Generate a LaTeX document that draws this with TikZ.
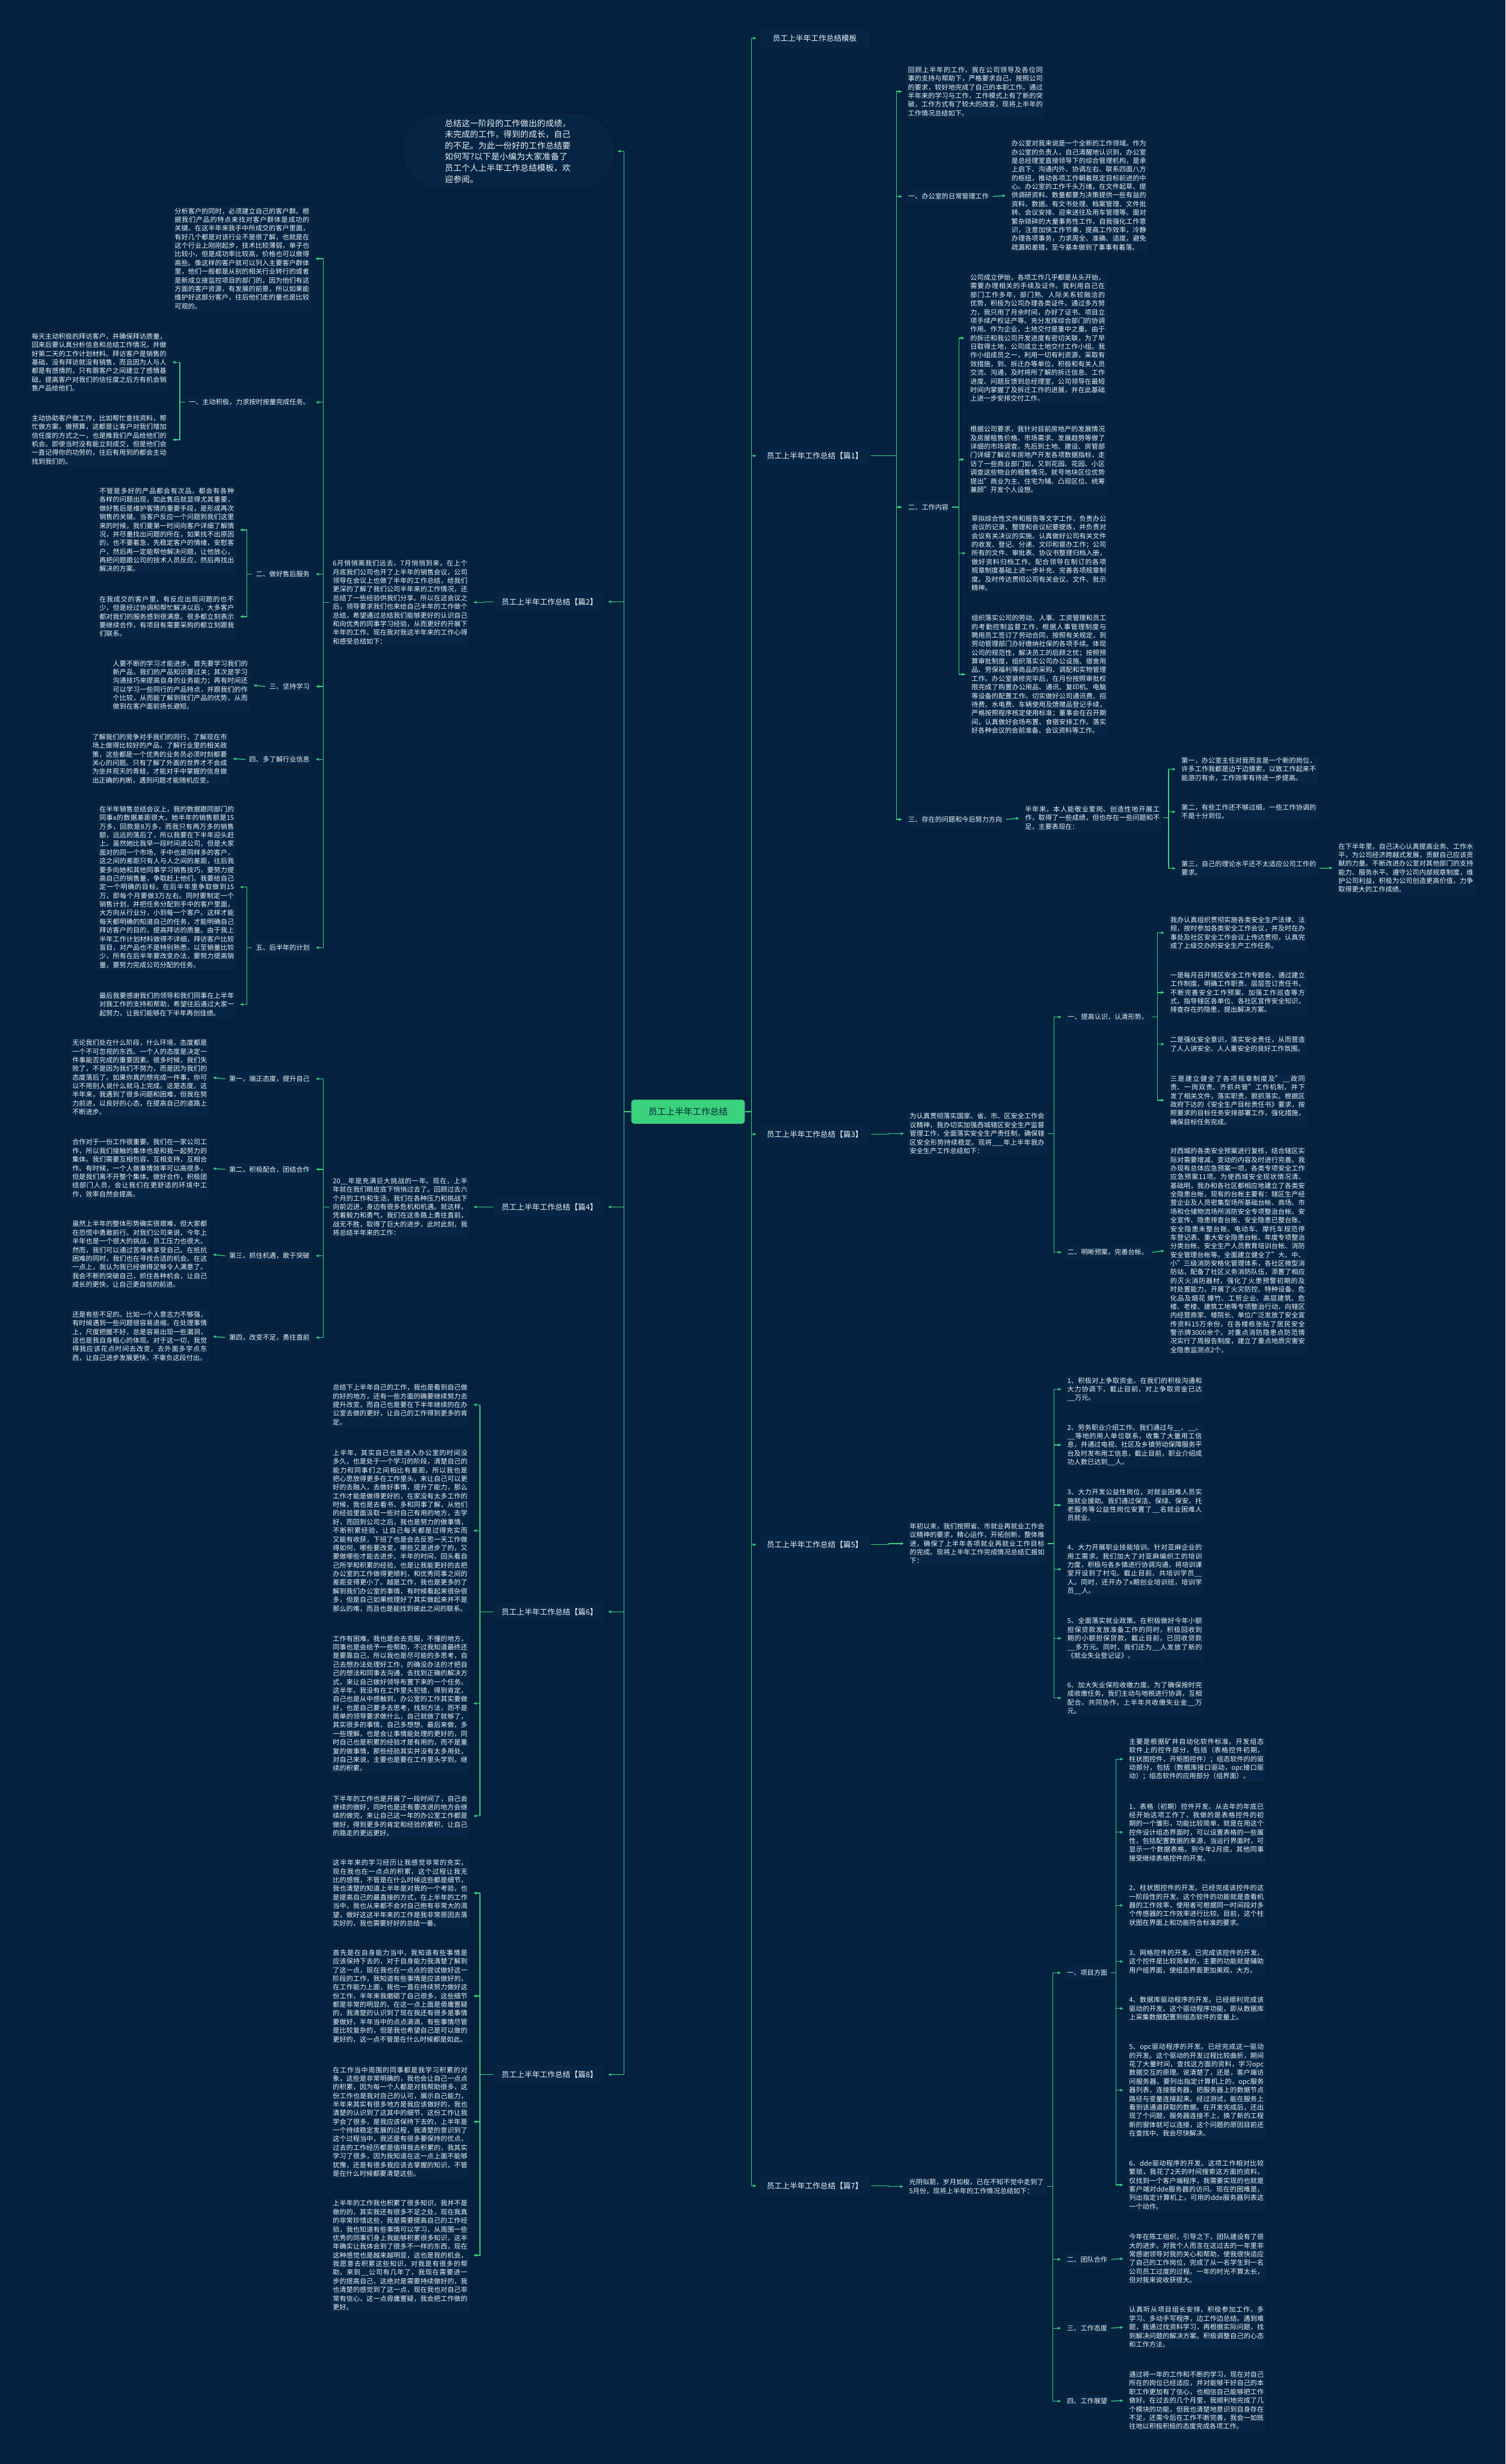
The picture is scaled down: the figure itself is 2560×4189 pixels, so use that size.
\documentclass[tikz,border=0pt]{standalone}
\usepackage{fontspec}
\setmainfont{Noto Sans CJK SC}
\usetikzlibrary{arrows.meta}
\XeTeXlinebreaklocale "zh"
\XeTeXlinebreakskip=0pt plus 1pt
\definecolor{bgcol}{HTML}{042140}
\definecolor{boxfill}{HTML}{062544}
\definecolor{boxline}{HTML}{0C1A2A}
\definecolor{linkcol}{HTML}{3AD27C}
\definecolor{fgcol}{HTML}{EEF3F8}
\definecolor{rootfg}{HTML}{0B2440}
\begin{document}
\begin{tikzpicture}[x=1pt, y=-1pt,
  link/.style={draw=linkcol, line width=1.3pt, -{Stealth[length=6pt,width=5pt]}, shorten >=4pt},
  txt/.style={draw=boxline, fill=boxfill, line width=1pt, rounded corners=4pt, text=fgcol,
    text width=229pt, inner xsep=5.5pt, inner ysep=5pt, align=justify,
    font=\fontsize{11.4}{14.7}\selectfont},
  lbl/.style={draw=boxline, fill=boxfill, line width=1pt, rounded corners=4pt, text=fgcol,
    inner xsep=6pt, inner ysep=4pt, minimum height=26pt, font=\fontsize{11.4}{14}\selectfont},
  topic/.style={draw=boxline, fill=boxfill, line width=1pt, rounded corners=5pt, text=fgcol,
    inner xsep=10pt, minimum width=190pt, minimum height=34pt, font=\fontsize{13}{15}\selectfont},
  rootbox/.style={fill=linkcol, rounded corners=5pt, text=rootfg, minimum width=193pt,
    minimum height=41pt, font=\fontsize{15}{17}\selectfont},
  introbox/.style={draw=boxline, fill=boxfill, line width=1.2pt, rounded corners=66pt, text=fgcol,
    text width=216pt, inner xsep=73pt, inner ysep=11pt, align=left,
    font=\fontsize{14.2}{19}\selectfont}]

\fill[bgcol] (0,0) rectangle (2560,4189);
\useasboundingbox (0,0) rectangle (2560,4189);

% centre
\node[rootbox] (root) at (1170,1890) {员工上半年工作总结};

% gauche
\node[introbox, anchor=east] (intro) at (1046,257)
{总结这一阶段的工作做出的成绩，未完成的工作，得到的成长，自己的不足。为此一份好的工作总结要如何写?以下是小编为大家准备了员工个人上半年工作总结模板，欢迎参阅。};
\node[topic, anchor=east] (p2) at (1030,1023) {员工上半年工作总结【篇2】};
\node[topic, anchor=east] (p4) at (1030,2052) {员工上半年工作总结【篇4】};
\node[topic, anchor=east] (p6) at (1030,2740) {员工上半年工作总结【篇6】};
\node[topic, anchor=east] (p8) at (1030,3527) {员工上半年工作总结【篇8】};

\draw[link] (root.west) -- ++(-12,0) |- (intro.east);
\draw[link] (root.west) -- ++(-12,0) |- (p2.east);
\draw[link] (root.west) -- ++(-12,0) |- (p4.east);
\draw[link] (root.west) -- ++(-12,0) |- (p6.east);
\draw[link] (root.west) -- ++(-12,0) |- (p8.east);

% droite
\node[topic, anchor=west] (tpl) at (1290,65) {员工上半年工作总结模板};
\node[topic, anchor=west] (p1) at (1290,775) {员工上半年工作总结【篇1】};
\node[topic, anchor=west] (p3) at (1290,1928) {员工上半年工作总结【篇3】};
\node[topic, anchor=west] (p5) at (1290,2626) {员工上半年工作总结【篇5】};
\node[topic, anchor=west] (p7) at (1290,3716) {员工上半年工作总结【篇7】};

\draw[link] (root.east) -- ++(11,0) |- (tpl.west);
\draw[link] (root.east) -- ++(11,0) |- (p1.west);
\draw[link] (root.east) -- ++(11,0) |- (p3.west);
\draw[link] (root.east) -- ++(11,0) |- (p5.west);
\draw[link] (root.east) -- ++(11,0) |- (p7.west);

% 篇2
\node[txt, anchor=north west] (p2intro) at (560,947)
{6月悄悄离我们远去，7月悄悄到来，在上个月底我们公司也开了上半年的销售会议，公司领导在会议上也做了半年的工作总结，给我们更深的了解了我们公司半年来的工作情况，还总结了一些经验供我们分享。所以在这会议之后，领导要求我们也来给自己半年的工作做个总结，希望通过总结我们能够更好的认识自己和向优秀的同事学习经验，从而更好的开展下半年的工作。现在我对我这半年来的工作心得和感受总结如下：};
\draw[link] (p2.west) -- ++(-16,0) |- (p2intro.east);

\node[txt, anchor=north east] (fenxi) at (532,348)
{分析客户的同时，必须建立自己的客户群。根据我们产品的特点来找对客户群体是成功的关键。在这半年来我手中所成交的客户里面，有好几个都是对该行业不是很了解，也就是在这个行业上刚刚起步，技术比较薄弱，单子也比较小，但是成功率比较高，价格也可以做得高些。像这样的客户就可以列入主要客户群体里，他们一般都是从别的相关行业转行的或者是新成立接监控项目的部门的，因为他们有这方面的客户资源，有发展的前景，所以如果能维护好这部分客户，往后他们走的量也是比较可观的。};
\node[lbl, anchor=east] (yi) at (533,684) {一、主动积极，力求按时按量完成任务。};
\node[lbl, anchor=east] (er) at (533,976) {二、做好售后服务};
\node[lbl, anchor=east] (san) at (533,1167) {三、坚持学习};
\node[lbl, anchor=east] (si) at (533,1291) {四、多了解行业信息};
\node[lbl, anchor=east] (wu) at (533,1611) {五、后半年的计划};

\draw[link] (p2intro.west) -- ++(-10,0) |- (fenxi.east);
\draw[link] (p2intro.west) -- ++(-10,0) |- (yi.east);
\draw[link] (p2intro.west) -- ++(-10,0) |- (er.east);
\draw[link] (p2intro.west) -- ++(-10,0) |- (san.east);
\draw[link] (p2intro.west) -- ++(-10,0) |- (si.east);
\draw[link] (p2intro.west) -- ++(-10,0) |- (wu.east);

\node[txt, anchor=north east] (yia) at (289,561)
{每天主动积极的拜访客户，并确保拜访质量，回来后要认真分析信息和总结工作情况，并做好第二天的工作计划材料。拜访客户是销售的基础，没有拜访就没有销售，而且因为人与人都是有感情的，只有跟客户之间建立了感情基础，提高客户对我们的信任度之后方有机会销售产品给他们。};
\node[txt, anchor=north east] (yib) at (289,700)
{主动协助客户做工作，比如帮忙查找资料，帮忙做方案，做预算，这都是让客户对我们增加信任度的方式之一，也是推我们产品给他们的机会。即使当时没有能立刻成交，但是他们会一直记得你的功劳的，往后有用到的都会主动找到我们的。};
\draw[link] (yi.west) -- ++(-9,0) |- (yia.east);
\draw[link] (yi.west) -- ++(-9,0) |- (yib.east);

\node[txt, anchor=north east] (era) at (404,824)
{不管是多好的产品都会有次品，都会有各种各样的问题出现，如此售后就显得尤其重要，做好售后是维护客情的重要手段，是形成再次销售的关键。当客户反应一个问题到我们这里来的时候，我们要第一时间向客户详细了解情况，并尽量找出问题的所在，如果找不出原因的，也不要着急，先稳定客户的情绪，安慰客户，然后再一定能帮他解决问题，让他放心，再把问题跟公司的技术人员反应，然后再找出解决的方案。};
\node[txt, anchor=north east] (erb) at (404,1008)
{在我成交的客户里，有反应出现问题的也不少，但是经过协调和帮忙解决以后，大多客户都对我们的服务感到很满意。很多都立刻表示要继续合作，有项目有需要采购的都立刻跟我们联系。};
\draw[link] (er.west) -- ++(-9,0) |- (era.east);
\draw[link] (er.west) -- ++(-9,0) |- (erb.east);

\node[txt, anchor=north east] (sana) at (427,1117)
{人要不断的学习才能进步。首先要学习我们的新产品，我们的产品知识要过关；其次是学习沟通技巧来提高自身的业务能力；再有时间还可以学习一些同行的产品特点，并跟我们的作个比较，从而能了解到我们产品的优势，从而做到在客户面前扬长避短。};
\draw[link] (san.west) -- (sana.east);

\node[txt, anchor=north east] (sia) at (392,1242)
{了解我们的竞争对手我们的同行，了解现在市场上做得比较好的产品，了解行业里的相关政策，这些都是一个优秀的业务员必须时刻都要关心的问题。只有了解了外面的世界才不会成为坐井观天的青蛙，才能对手中掌握的信息做出正确的判断，遇到问题才能随机应变。};
\draw[link] (si.west) -- (sia.east);

\node[txt, anchor=north east] (wua) at (404,1365)
{在半年销售总结会议上，我的数据跟同部门的同事x的数据差距很大，她半年的销售额是15万多，回款是8万多，而我只有两万多的销售额，远远的落后了，所以我要在下半年迎头赶上。虽然她比我早一段时间进公司，但是大家面对的同一个市场，手中也是同样多的客户，这之间的差距只有人与人之间的差距，往后我要多向她和其他同事学习销售技巧，要努力提高自己的销售量，争取赶上他们。我要给自己定一个明确的目标，在后半年里争取做到15万，即每个月要做3万左右。同时要制定一个销售计划，并把任务分配到手中的客户里面，大方向从行业分，小到每一个客户。这样才能每天都明确的知道自己的任务，才能明确自己拜访客户的目的，提高拜访的质量。由于我上半年工作计划材料做得不详细，拜访客户比较盲目，对产品也不是特别熟悉，以至销量比较少，所有在后半年要改变办法，要努力提高销量，要努力完成公司分配的任务。};
\node[txt, anchor=north east] (wub) at (404,1682)
{最后我要感谢我们的领导和我们同事在上半年对我工作的支持和帮助，希望往后通过大家一起努力，让我们能够在下半年再创佳绩。};
\draw[link] (wu.west) -- ++(-9,0) |- (wua.east);
\draw[link] (wu.west) -- ++(-9,0) |- (wub.east);

% 篇4
\node[txt, anchor=north west] (p4intro) at (560,1997)
{20\_\_年是充满巨大挑战的一年。现在，上半年就在我们眼皮底下悄悄过去了。回顾过去六个月的工作和生活，我们在各种压力和挑战下向前迈进，身边有很多危机和机遇。就这样，凭着毅力和勇气，我们在这条路上勇往直前，战无不胜，取得了巨大的进步。此时此刻，我将总结半年来的工作：};
\draw[link] (p4.west) -- ++(-16,0) |- (p4intro.east);

\node[lbl, anchor=east] (d1) at (533,1834) {第一，端正态度，提升自己};
\node[lbl, anchor=east] (d2) at (533,1988) {第二，积极配合，团结合作};
\node[lbl, anchor=east] (d3) at (533,2135) {第三，抓住机遇，敢于突破};
\node[lbl, anchor=east] (d4) at (533,2274) {第四，改变不足，勇往直前};
\draw[link] (p4intro.west) -- ++(-10,0) |- (d1.east);
\draw[link] (p4intro.west) -- ++(-10,0) |- (d2.east);
\draw[link] (p4intro.west) -- ++(-10,0) |- (d3.east);
\draw[link] (p4intro.west) -- ++(-10,0) |- (d4.east);

\node[txt, anchor=north east] (d1a) at (358,1762)
{无论我们处在什么阶段，什么环境，态度都是一个不可忽视的东西。一个人的态度是决定一件事能否完成的重要因素。很多时候，我们失败了，不是因为我们不努力，而是因为我们的态度落后了。如果你真的想完成一件事，你可以不用别人说什么就马上完成。这是态度。这半年来，我遇到了很多问题和困难，但我在努力前进，以良好的心态，在提高自己的道路上不断进步。};
\node[txt, anchor=north east] (d2a) at (358,1931)
{合作对于一份工作很重要。我们在一家公司工作，所以我们接触的集体也是和我一起努力的集体。我们需要互相包容，互相支持，互相合作。有时候，一个人做事情效率可以高很多，但是我们离不开整个集体。做好合作，积极团结部门人员，会让我们在更舒适的环境中工作，效率自然会提高。};
\node[txt, anchor=north east] (d3a) at (358,2070)
{虽然上半年的整体形势确实很艰难，但大家都在恐慌中勇敢前行。对我们公司来说，今年上半年也是一个很大的挑战，员工压力也很大。然而，我们可以通过苦难来享受自己。在抵抗困难的同时，我们也在寻找合适的机会。在这一点上，我认为我已经做得足够令人满意了。我会不断的突破自己，抓住各种机会，让自己成长的更快，让自己更自信的前进。};
\node[txt, anchor=north east] (d4a) at (358,2224)
{还是有些不足的。比如一个人意志力不够强，有时候遇到一些问题很容易退缩。在处理事情上，尺度把握不好，总是容易出现一些漏洞，这也是我自身粗心的体现。对于这一切，我觉得我应该花点时间去改变，去外面多学点东西，让自己进步发展更快，不辜负这段付出。};
\draw[link] (d1.west) -- (d1a.east);
\draw[link] (d2.west) -- (d2a.east);
\draw[link] (d3.west) -- (d3a.east);
\draw[link] (d4.west) -- (d4a.east);

% 篇6
\node[txt, anchor=north west] (h1) at (560,2348)
{总结下上半年自己的工作，我也是看到自己做的好的地方，还有一些方面的确要继续努力去提升改变，而自己也是要在下半年继续的在办公室去做的更好，让自己的工作得到更多的肯定。};
\node[txt, anchor=north west] (h2) at (560,2459)
{上半年，其实自己也是进入办公室的时间没多久，也是处于一个学习的阶段，清楚自己的能力和同事们之间相比有差距，所以我也是把心思放得更多在工作里头，来让自己可以更好的去融入，去做好事情，提升了能力，那么工作才能是做得更好的，在家没有太多工作的时候，我也是去看书，多和同事了解，从他们的经验里面汲取一些对自己有用的地方，去学好，而回到公司之后，我也是努力的做事情，不断积累经验，让自己每天都是过得充实而又能有收获，下班了也是会去反思一天工作做得如何，哪些要改变，哪些又是进步了的，又要做哪些才能去进步。半年的时间，回头看自己所学和积累的经验，也是让我能更好的去把办公室的工作做得更顺利，和优秀同事之间的差距变得更小了。越是工作，我也是更多的了解到我们办公室的事情，有时候看起来很杂很多，但是自己如果梳理好了其实做起来并不是那么的难，而且也是能找到彼此之间的联系。};
\node[txt, anchor=north west] (h3) at (560,2775)
{工作有困难，我也是会去克服，不懂的地方，同事也是会给予一些帮助，不过我知道最终还是要靠自己，所以我也是尽可能的多思考，自己去想办法处理好工作，的确没办法的才把自己的想法和同事去沟通，去找到正确的解决方式，来让自己做好领导布置下来的一个任务。这半年，我没有在工作里头犯错，得到肯定，自己也是从中感触到，办公室的工作其实要做好，也是自己要多去思考，找到方法，而不是简单的领导要求做什么，自己就做了就够了，其实很多的事情，自己多想想，最后来做，多一些理解，也是会让事情能处理的更好的，同时自己也是积累的经验才是有用的，而不是重复的做事情，那些经验其实并没有太多用处，对自己来说，主要也是要在工作里头学到，继续的积累。};
\node[txt, anchor=north west] (h4) at (560,3047)
{下半年的工作也是开展了一段时间了，自己会继续的做好，同时也是还有要改进的地方会继续的做完，来让自己这一年的办公室工作都是做好，得到更多的肯定和经验的累积，让自己的路走的更远更好。};
\draw[link] (p6.west) -- ++(-23,0) |- (h1.east);
\draw[link] (p6.west) -- ++(-23,0) |- (h2.east);
\draw[link] (p6.west) -- ++(-23,0) |- (h3.east);
\draw[link] (p6.west) -- ++(-23,0) |- (h4.east);

% 篇8
\node[txt, anchor=north west] (k1) at (560,3156)
{这半年来的学习经历让我感觉非常的充实，现在我也在一点点的积累，这个过程让我无比的感慨，不管是在什么时候这些都是细节，我也清楚的知道上半年是对我的一个考验，也是提高自己的最直接的方式，在上半年的工作当中，我也从来都不会对自己抱有非常大的渴望，做好这这半年来的工作是我非常原因去落实好的，我也需要好好的总结一番。};
\node[txt, anchor=north west] (k2) at (560,3309)
{首先是在自身能力当中，我知道有些事情是应该保持下去的，对于自身能力我清楚了解到了这一点，现在我也在一点点的尝试做好这一阶段的工作，我知道有些事情是应该做好的，在工作能力上面，我也一直在持续努力做好这份工作，半年来我磨砺了自己很多，这些细节都是非常的明显的，在这一点上面是毋庸置疑的，我清楚的认识到了现在我还有很多是事情要做好，半年当中的点点滴滴，有些事情尽管是比较复杂的，但是我也希望自己是可以做的更好的，这一点不管是在什么时候都是如此。};
\node[txt, anchor=north west] (k3) at (560,3508)
{在工作当中周围的同事都是我学习积累的对象，这些是非常明确的，我也会让自己一点点的积累，因为每一个人都是对我帮助很多，这份工作也是我对自己的认可，展示自己能力，半年来其实有很多地方是我应该做好的，我也清楚的认识到了这其中的细节，这份工作让我学会了很多，是我应该保持下去的，上半年是一个持续稳定发展的过程，我清楚的意识到了这个过程当中，我还是有很多要保持的优点，过去的工作经历都是值得我去积累的，我其实学习了很多，因为我知道在这一点上面不能够犹豫，还是有很多我应该去掌握的知识，不管是在什么时候都要清楚这些。};
\node[txt, anchor=north west] (k4) at (560,3735)
{上半年的工作我也积累了很多知识，我并不是做的的，其实我还有很多不足之处，现在我真的非常珍惜这些，我是需要提高自己的工作经验，我也知道有些事情可以学习，从周围一些优秀的同事们身上我能够积累很多知识，这半年确实让我体会到了很多不一样的东西，现在这种感觉也是越来越明显，这也是我的机会，我愿意去积累这些知识，对我是有很多的帮助，来到\_\_公司有几年了，我现在需要进一步的提高自己，这绝对是需要持续做好的，我也清楚的感觉到了这一点，现在我也对自己非常有信心，这一点毋庸置疑，我会把工作做的更好。};
\draw[link] (p8.west) -- ++(-23,0) |- (k1.east);
\draw[link] (p8.west) -- ++(-23,0) |- (k2.east);
\draw[link] (p8.west) -- ++(-23,0) |- (k3.east);
\draw[link] (p8.west) -- ++(-23,0) |- (k4.east);

% 篇1
\node[txt, anchor=north west] (b1) at (1538,108)
{回顾上半年的工作，我在公司领导及各位同事的支持与帮助下，严格要求自己，按照公司的要求，较好地完成了自己的本职工作。通过半年来的学习与工作，工作模式上有了新的突破，工作方式有了较大的改变，现将上半年的工作情况总结如下。};
\node[lbl, anchor=west] (r1) at (1538,334) {一、办公室的日常管理工作};
\node[lbl, anchor=west] (r2) at (1538,862) {二、工作内容};
\node[lbl, anchor=west] (r3) at (1538,1393) {三、存在的问题和今后努力方向};
\draw[link] (p1.east) -- ++(43,0) |- (b1.west);
\draw[link] (p1.east) -- ++(43,0) |- (r1.west);
\draw[link] (p1.east) -- ++(43,0) |- (r2.west);
\draw[link] (p1.east) -- ++(43,0) |- (r3.west);

\node[txt, anchor=north west] (r1a) at (1714,233)
{办公室对我来说是一个全新的工作领域。作为办公室的负责人，自己清醒地认识到，办公室是总经理室直接领导下的综合管理机构，是承上启下、沟通内外、协调左右、联系四面八方的枢纽，推动各项工作朝着既定目标前进的中心。办公室的工作千头万绪，在文件起草、提供调研资料、数量都要为决策提供一些有益的资料，数据。有文书处理、档案管理、文件批转、会议安排、迎来送往及用车管理等。面对繁杂琐碎的大量事务性工作，自我强化工作意识，注意加快工作节奏，提高工作效率，冷静办理各项事务，力求周全、准确、适度，避免疏漏和差错，至今基本做到了事事有着落。};
\draw[link] (r1.east) -- (r1a.west);

\node[txt, anchor=north west] (r2a) at (1644,461)
{公司成立伊始，各项工作几乎都是从头开始，需要办理相关的手续及证件。我利用自己在部门工作多年，部门熟、人际关系较融洽的优势，积极为公司办理各类证件。通过多方努力，我只用了月余时间，办好了证书、项目立项手续产权证产等。充分发挥综合部门的协调作用。作为企业，土地交付是重中之重。由于的拆迁和我公司开发进度有密切关联，为了早日取得土地，公司成立土地交付工作小组。我作小组成员之一，利用一切有利资源，采取有效措施，到、拆迁办等单位，积极和有关人员交流、沟通，及时将所了解的拆迁信息、工作进度、问题反馈到总经理室，公司领导在最短时间内掌握了及拆迁工作的进展，并在此基础上进一步安排交付工作。};
\node[txt, anchor=north west] (r2b) at (1644,719)
{根据公司要求，我针对目前房地产的发展情况及房屋租售价格、市场需求、发展趋势等做了详细的市场调查。先后到土地、建设、房管部门详细了解近年房地产开发各项数据指标，走访了一些商业部门如，又到花园、花园、小区调查这些物业的租售情况。就号地块区位优势提出"商业为主、住宅为辅、凸现区位、统筹兼顾"开发个人设想。};
\node[txt, anchor=north west] (r2c) at (1646,871)
{草拟综合性文件和报告等文字工作，负责办公会议的记录、整理和会议纪要提炼，并负责对会议有关决议的实施。认真做好公司有关文件的收发、登记、分递、文印和督办工作；公司所有的文件、审批表、协议书整理归档入册，做好资料归档工作。配合领导在制订的各项规章制度基础上进一步补充、完善各项规章制度。及时传达贯彻公司有关会议、文件、批示精神。};
\node[txt, anchor=north west] (r2d) at (1646,1040)
{组织落实公司的劳动、人事、工资管理和员工的考勤控制监督工作，根据人事管理制度与聘用员工签订了劳动合同，按照有关规定，到劳动管理部门办好缴纳社保的各项手续。体现公司的规范性，解决员工的后顾之忧；按照预算审批制度，组织落实公司办公设施、宿舍用品、劳保福利等商品的采购、调配和实物管理工作。办公室装修完毕后，在月份按照审批权限完成了购置办公用品、通讯、复印机、电脑等设备的配置工作。切实做好公司通讯费、招待费、水电费、车辆使用及馈赠品登记手续，严格按照程序核定使用标准；董事会在召开期间，认真做好会场布置、食宿安排工作。落实好各种会议的会前准备、会议资料等工作。};
\draw[link] (r2.east) -- ++(11,0) |- (r2a.west);
\draw[link] (r2.east) -- ++(11,0) |- (r2b.west);
\draw[link] (r2.east) -- ++(11,0) |- (r2c.west);
\draw[link] (r2.east) -- ++(11,0) |- (r2d.west);

\node[txt, anchor=north west] (r3a) at (1737,1365)
{半年来，本人能敬业爱岗、创造性地开展工作，取得了一些成绩，但也存在一些问题和不足，主要表现在：};
\draw[link] (r3.east) -- (r3a.west);
\node[txt, anchor=north west] (q1) at (2003,1282)
{第一，办公室主任对我而言是一个新的岗位，许多工作我都是边干边摸索，以致工作起来不能游刃有余，工作效率有待进一步提高。};
\node[txt, anchor=north west] (q2) at (2003,1362)
{第二，有些工作还不够过细，一些工作协调的不是十分到位。};
\node[txt, anchor=north west] (q3) at (2003,1458)
{第三，自己的理论水平还不太适应公司工作的要求。};
\draw[link] (r3a.east) -- ++(9,0) |- (q1.west);
\draw[link] (r3a.east) -- ++(9,0) |- (q2.west);
\draw[link] (r3a.east) -- ++(9,0) |- (q3.west);
\node[txt, anchor=north west] (q3a) at (2270,1428)
{在下半年里，自己决心认真提高业务、工作水平，为公司经济跨越式发展，贡献自己应该贡献的力量。不断改进办公室对其他部门的支持能力、服务水平。遵守公司内部规章制度，维护公司利益，积极为公司创造更高价值，力争取得更大的工作成绩。};
\draw[link] (q3.east) -- (q3a.west);

% 篇3
\node[txt, anchor=north west] (p3intro) at (1541,1887)
{为认真贯彻落实国家、省、市、区安全工作会议精神，我办切实加强西城辖区安全生产监督管理工作，全面落实安全生产责任制，确保辖区安全形势持续稳定。现将\_\_\_年上半年我办安全生产工作总结如下：};
\draw[link] (p3.east) -- ++(30,0) |- (p3intro.west);
\node[lbl, anchor=west] (s1) at (1809,1729) {一、提高认识，认清形势。};
\node[lbl, anchor=west] (s2) at (1809,2129) {二、明晰预案，完善台帐。};
\draw[link] (p3intro.east) -- ++(10,0) |- (s1.west);
\draw[link] (p3intro.east) -- ++(10,0) |- (s2.west);

\node[txt, anchor=north west] (s1a) at (1984,1553)
{我办认真组织贯彻实施各类安全生产法律、法规，按时参加各类安全工作会议，并及时在办事处及社区安全工作会议上传达贯彻，认真完成了上级交办的安全生产工作任务。};
\node[txt, anchor=north west] (s1b) at (1984,1647)
{一是每月召开辖区安全工作专题会，通过建立工作制度、明确工作职责、层层签订责任书，不断完善安全工作预案，加强工作巡查等方式，指导辖区各单位、各社区宣传安全知识，排查存在的隐患，提出解决方案。};
\node[txt, anchor=north west] (s1c) at (1984,1757)
{二是强化安全意识，落实安全责任，从而营造了人人讲安全、人人重安全的良好工作氛围。};
\node[txt, anchor=north west] (s1d) at (1984,1823)
{三是建立健全了各项规章制度及"\_\_政同责、一岗双责、齐抓共管"工作机制，并下发了相关文件，落实职责，狠抓落实。根据区政府下达的《安全生产目标责任书》要求，按照要求的目标任务安排部署工作，强化措施，确保目标任务完成。};
\draw[link] (s1.east) -- ++(9,0) |- (s1a.west);
\draw[link] (s1.east) -- ++(9,0) |- (s1b.west);
\draw[link] (s1.east) -- ++(9,0) |- (s1c.west);
\draw[link] (s1.east) -- ++(9,0) |- (s1d.west);

\node[txt, anchor=north west] (s2a) at (1984,1946)
{对西城的各类安全预案进行复核，结合辖区实际对需要增减、变动的内容及时进行完善。我办现有总体应急预案一项，各类专项安全工作应急预案11项。为使西城安全现状情况清、基础明，我办和各社区都相应地建立了各类安全隐患台帐，现有的台帐主要有：辖区生产经营企业及人员密集型场所基础台帐、商场、市场和仓储物流场所消防安全专项整治台帐、安全宣传、隐患排查台账、安全隐患已整台账、安全隐患未整台账、电动车、摩托车规范停车登记表、重大安全隐患台帐、年度专项整治分类台帐、安全生产人员教育培训台帐、消防安全管理台帐等。全面建立健全了"大、中、小"三级消防安格化管理体系，各社区微型消防站，配备了社区义务消防队伍，添置了相应的灭火消防器材，强化了火患预警初期的及时处置能力。开展了火灾防控、特种设备、危化品及烟花 爆竹、工贸企业、高层建筑、危楼、老楼、建筑工地等专项整治行动，向辖区内经营商家、楼院长、单位广泛发放了安全宣传资料15万余份，在各楼栋张贴了居民安全警示牌3000余个。对重点消防隐患点防范情况实行了周报告制度，建立了重点地质灾害安全隐患监测点2个。};
\draw[link] (s2.east) -- (s2a.west);

% 篇5
\node[txt, anchor=north west] (p5intro) at (1541,2584)
{年初以来，我们按照省、市就业再就业工作会议精神的要求，精心运作，开拓创新，整体推进，确保了上半年各项就业再就业工作目标的完成。现将上半年工作完成情况总结汇报如下：};
\draw[link] (p5.east) -- ++(30,0) |- (p5intro.west);
\node[txt, anchor=north west] (f1) at (1809,2336)
{1、积极对上争取资金。在我们的积极沟通和大力协调下，截止目前，对上争取资金已达\_\_万元。};
\node[txt, anchor=north west] (f2) at (1809,2416)
{2、劳务职业介绍工作。我们通过与\_\_、\_\_、\_\_等地的用人单位联系，收集了大量用工信息，并通过电视、社区及乡镇劳动保障服务平台及时发布用工信息，截止目前，职业介绍成功人数已达到\_\_人。};
\node[txt, anchor=north west] (f3) at (1809,2526)
{3、大力开发公益性岗位，对就业困难人员实施就业援助。我们通过保洁、保绿、保安、托老服务等公益性岗位安置了\_\_名就业困难人员就业。};
\node[txt, anchor=north west] (f4) at (1809,2620)
{4、大力开展职业技能培训。针对亚麻企业的用工需求，我们加大了对亚麻编织工的培训力度，积极与各乡镇进行协调沟通，将培训课堂开设到了村屯。截止目前，共培训学员\_\_人。同时，还开办了x期创业培训班，培训学员\_\_人。};
\node[txt, anchor=north west] (f5) at (1809,2745)
{5、全面落实就业政策。在积极做好今年小额担保贷款发放准备工作的同时，积极回收到期的小额担保贷款，截止目前，已回收贷款\_\_多万元。同时，我们还为\_\_人发放了新的《就业失业登记证》。};
\node[txt, anchor=north west] (f6) at (1809,2854)
{6、加大失业保险收缴力度。为了确保按时完成收缴任务，我们主动与地税进行协调，互相配合，共同协作，上半年共收缴失业金\_\_万元。};
\draw[link] (p5intro.east) -- ++(10,0) |- (f1.west);
\draw[link] (p5intro.east) -- ++(10,0) |- (f2.west);
\draw[link] (p5intro.east) -- ++(10,0) |- (f3.west);
\draw[link] (p5intro.east) -- ++(10,0) |- (f4.west);
\draw[link] (p5intro.east) -- ++(10,0) |- (f5.west);
\draw[link] (p5intro.east) -- ++(10,0) |- (f6.west);

% 篇7
\node[txt, anchor=north west] (p7intro) at (1540,3699)
{光阴似箭，岁月如梭，已在不知不觉中走到了5月份，现将上半年的工作情况总结如下：};
\draw[link] (p7.east) -- ++(30,0) |- (p7intro.west);
\node[lbl, anchor=west] (g1) at (1808,3354) {一、项目方面};
\node[lbl, anchor=west] (g2) at (1808,3841) {二、团队合作};
\node[lbl, anchor=west] (g3) at (1808,3958) {三、工作态度};
\node[lbl, anchor=west] (g4) at (1808,4082) {四、工作展望};
\draw[link] (p7intro.east) -- ++(9,0) |- (g1.west);
\draw[link] (p7intro.east) -- ++(9,0) |- (g2.west);
\draw[link] (p7intro.east) -- ++(9,0) |- (g3.west);
\draw[link] (p7intro.east) -- ++(9,0) |- (g4.west);

\node[txt, anchor=north west] (g1a) at (1914,2950)
{主要是根据矿井自动化软件标准，开发组态软件上的控件部分，包括（表格控件初期，柱状图控件，开矩图控件）；组态软件的的驱动部分，包括（数据库接口驱动，opc接口驱动）；组态软件的应用部分（组界面）。};
\node[txt, anchor=north west] (g1b) at (1914,3060)
{1、表格（初期）控件开发。从去年的年底已经开始这项工作了，我做的是表格控件的初期的一个雏形，功能比较简单，就是在用这个控件设计组态界面时，可以设置表格的一些属性，包括配置数据的来源，当运行界面时，可显示一个数据表格。到今年2月底，其他同事接受继续表格控件的开发。};
\node[txt, anchor=north west] (g1c) at (1914,3199)
{2、柱状图控件的开发。已经完成该控件的这一阶段性的开发。这个控件的功能就是查看机器的工作效率，使用者可根据同一时间段对多个传感器的工作效率进行比较。目前，这个柱状图在界面上和功能符合标准的要求。};
\node[txt, anchor=north west] (g1d) at (1914,3309)
{3、网格控件的开发。已完成该控件的开发。这个控件是比较简单的，主要的功能就是辅助用户组界面，使组态界面更加美观，大方。};
\node[txt, anchor=north west] (g1e) at (1914,3389)
{4、数据库驱动程序的开发。已经顺利完成该驱动的开发。这个驱动程序功能，即从数据库上采集数据配置到组态软件的变量上。};
\node[txt, anchor=north west] (g1f) at (1914,3469)
{5、opc驱动程序的开发。已经完成这一驱动的开发。这个驱动的开发过程比较曲折，期间花了大量时间，查找这方面的资料，学习opc数据交互的原理。说清楚了，还是，客户端访问服务器，要列出指定计算机上的，opc服务器列表，连接服务器，把服务器上的数据节点路径与变量连接起来。经过测试，能在服务上看到该通道获取的数据。在开发完成后，还出现了个问题，服务器连接不上，换了新的工程新的窗体就可以连接，这个问题的原因目前还在查找中，我会尽快解决。};
\node[txt, anchor=north west] (g1g) at (1914,3667)
{6、dde驱动程序的开发。这项工作相对比较繁琐，我花了2天的时间搜索这方面的资料，仅找到一个客户端程序，我需要实现的也就是客户端对dde服务器的访问。现在的困难是，列出指定计算机上，可用的dde服务器列表这一个动作。};
\draw[link] (g1.east) -- ++(8,0) |- (g1a.west);
\draw[link] (g1.east) -- ++(8,0) |- (g1b.west);
\draw[link] (g1.east) -- ++(8,0) |- (g1c.west);
\draw[link] (g1.east) -- ++(8,0) |- (g1d.west);
\draw[link] (g1.east) -- ++(8,0) |- (g1e.west);
\draw[link] (g1.east) -- ++(8,0) |- (g1f.west);
\draw[link] (g1.east) -- ++(8,0) |- (g1g.west);

\node[txt, anchor=north west] (g2a) at (1914,3792)
{今年在陈工组织，引导之下，团队建设有了很大的进步。对我个人而言在这过去的一年里非常感谢领导对我的关心和帮助，使我很快适应了自己的工作岗位，完成了从一名学生到一名公司员工过度的过程。一年的时光不算太长，但对我来说收获很大。};
\node[txt, anchor=north west] (g3a) at (1914,3916)
{认真听从项目组长安排，积极参加工作，多学习、多动手写程序，边工作边总结。遇到难题，我通过找资料学习，再根据实际问题，找到解决问题的解决方案。积极调整自己的心态和工作方法。};
\node[txt, anchor=north west] (g4a) at (1914,4026)
{通过将一年的工作和不断的学习，现在对自己所在的岗位已经适应，并对能够干好自己的本职工作更加有了信心，也相信自己能够把工作做好。在过去的几个月里，我顺利地完成了几个模块的功能，但我也清楚地意识到自身存在不足，还需今后在工作不断完善，我会一如既往地以积极积极的态度完成各项工作。};
\draw[link] (g2.east) -- (g2a.west);
\draw[link] (g3.east) -- (g3a.west);
\draw[link] (g4.east) -- (g4a.west);

\end{tikzpicture}
\end{document}
